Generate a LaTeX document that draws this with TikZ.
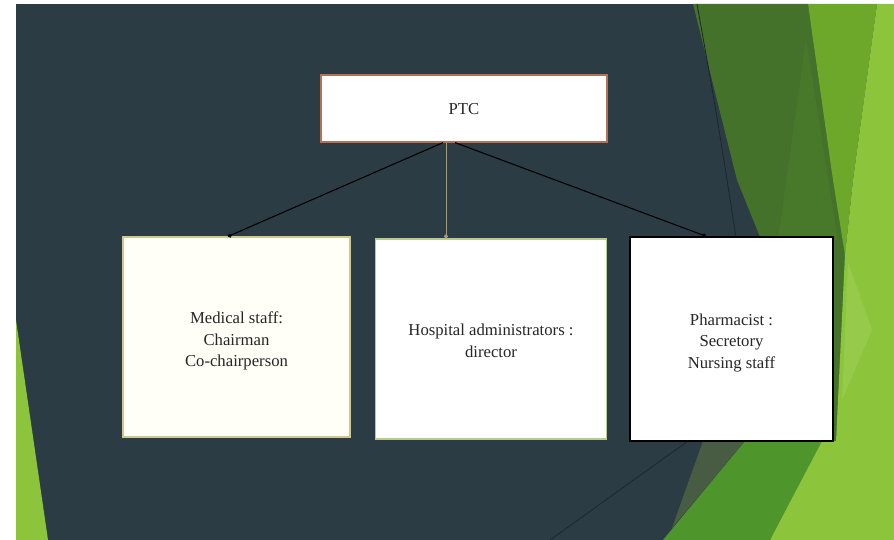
\documentclass[tikz,border=0pt]{standalone}
\usepackage{fontspec}
\setmainfont{Liberation Serif}
\usetikzlibrary{arrows.meta}
\definecolor{slate}{HTML}{2C3C44}
\definecolor{slateline}{HTML}{1C272D}
\definecolor{dkgreen}{HTML}{44722A}
\definecolor{dkgreenb}{HTML}{48792A}
\definecolor{midgreen}{HTML}{6EA82A}
\definecolor{ltgreen}{HTML}{8CC43C}
\definecolor{ltgreenb}{HTML}{96CA4B}
\definecolor{bmgreen}{HTML}{4E962C}
\definecolor{greyish}{HTML}{485C43}
\definecolor{ptcborder}{HTML}{B87050}
\definecolor{lbborder}{HTML}{CFC78E}
\definecolor{mbborder}{HTML}{B6CC8E}
\definecolor{midline}{HTML}{A49C7A}
\definecolor{txt}{HTML}{262626}
\begin{document}
\begin{tikzpicture}[x=1pt,y=-1pt,
  box/.style={fill=white, inner sep=0pt},
  boxtext/.style={align=center, text=txt, inner sep=0pt,
    font=\fontsize{16.7}{21.5}\selectfont},
  link/.style={line width=1.1pt, -{Circle[length=4pt]}}]
\useasboundingbox (0,0) rectangle (894,540);
\fill[white] (0,0) rectangle (894,540);
\fill[slate] (16,4) rectangle (894,540);
% right decoration
\fill[dkgreen] (693,4) -- (808,4) -- (848,255) -- (836,441) -- (703,441) -- (760,237) -- (737,180) -- cycle;
\fill[dkgreenb] (806,40) -- (838,240) -- (778,240) -- cycle;
\fill[midgreen] (808,4) -- (877,4) -- (853,180) -- (845,255) -- (833,180) -- cycle;
\fill[ltgreen] (877,4) -- (894,4) -- (894,540) -- (770,540) -- (819,441) -- (836,441) -- (845,255) -- (853,180) -- cycle;
\fill[ltgreenb] (848,262) -- (872,330) -- (842,400) -- cycle;
\fill[bmgreen] (745,441) -- (822,441) -- (770,540) -- (663,540) -- cycle;
\fill[greyish] (703,441) -- (745,441) -- (672,528) -- cycle;
\draw[slateline, line width=0.8pt] (697,4) .. controls (716,110) .. (736,237);
\draw[slateline, line width=0.8pt] (688,441) -- (550,540);
% left sliver
\fill[ltgreen] (16,320) -- (48,540) -- (16,540) -- cycle;
% boxes
\node[box, draw=ptcborder, line width=1.2pt, minimum width=286pt, minimum height=67pt,
  label={[boxtext, yshift=-1pt]center:PTC}] (ptc) at (464,108.5) {};
\node[box, draw=lbborder, fill=white!97!yellow, line width=1.2pt, minimum width=227pt, minimum height=200pt,
  label={[boxtext, yshift=-4pt]center:{Medical staff:\\Chairman\\Co-chairperson}}] (lb) at (236.5,337) {};
\node[box, draw=mbborder, line width=1.2pt, minimum width=231pt, minimum height=200pt,
  label={[boxtext, yshift=-2pt]center:{Hospital administrators :\\director}}] (mb) at (491,339) {};
\node[box, draw=black, line width=1.5pt, minimum width=203pt, minimum height=204pt,
  label={[boxtext, yshift=-4pt]center:{Pharmacist :\\Secretory\\Nursing staff}}] (rb) at (731.5,339) {};
% connectors
\coordinate (sl) at ([xshift=-21pt]ptc.south);
\coordinate (sm) at ([xshift=-18pt]ptc.south);
\coordinate (sr) at ([xshift=-9pt]ptc.south);
\coordinate (el) at ([xshift=-8.5pt]lb.north);
\coordinate (em) at ([xshift=-45pt]mb.north);
\coordinate (er) at ([xshift=-25.5pt]rb.north);
\draw[link, black] (sl) -- (el);
\draw[link, midline, line width=0.9pt] (sm) -- (em);
\draw[link, black] (sr) -- (er);
\end{tikzpicture}
\end{document}
